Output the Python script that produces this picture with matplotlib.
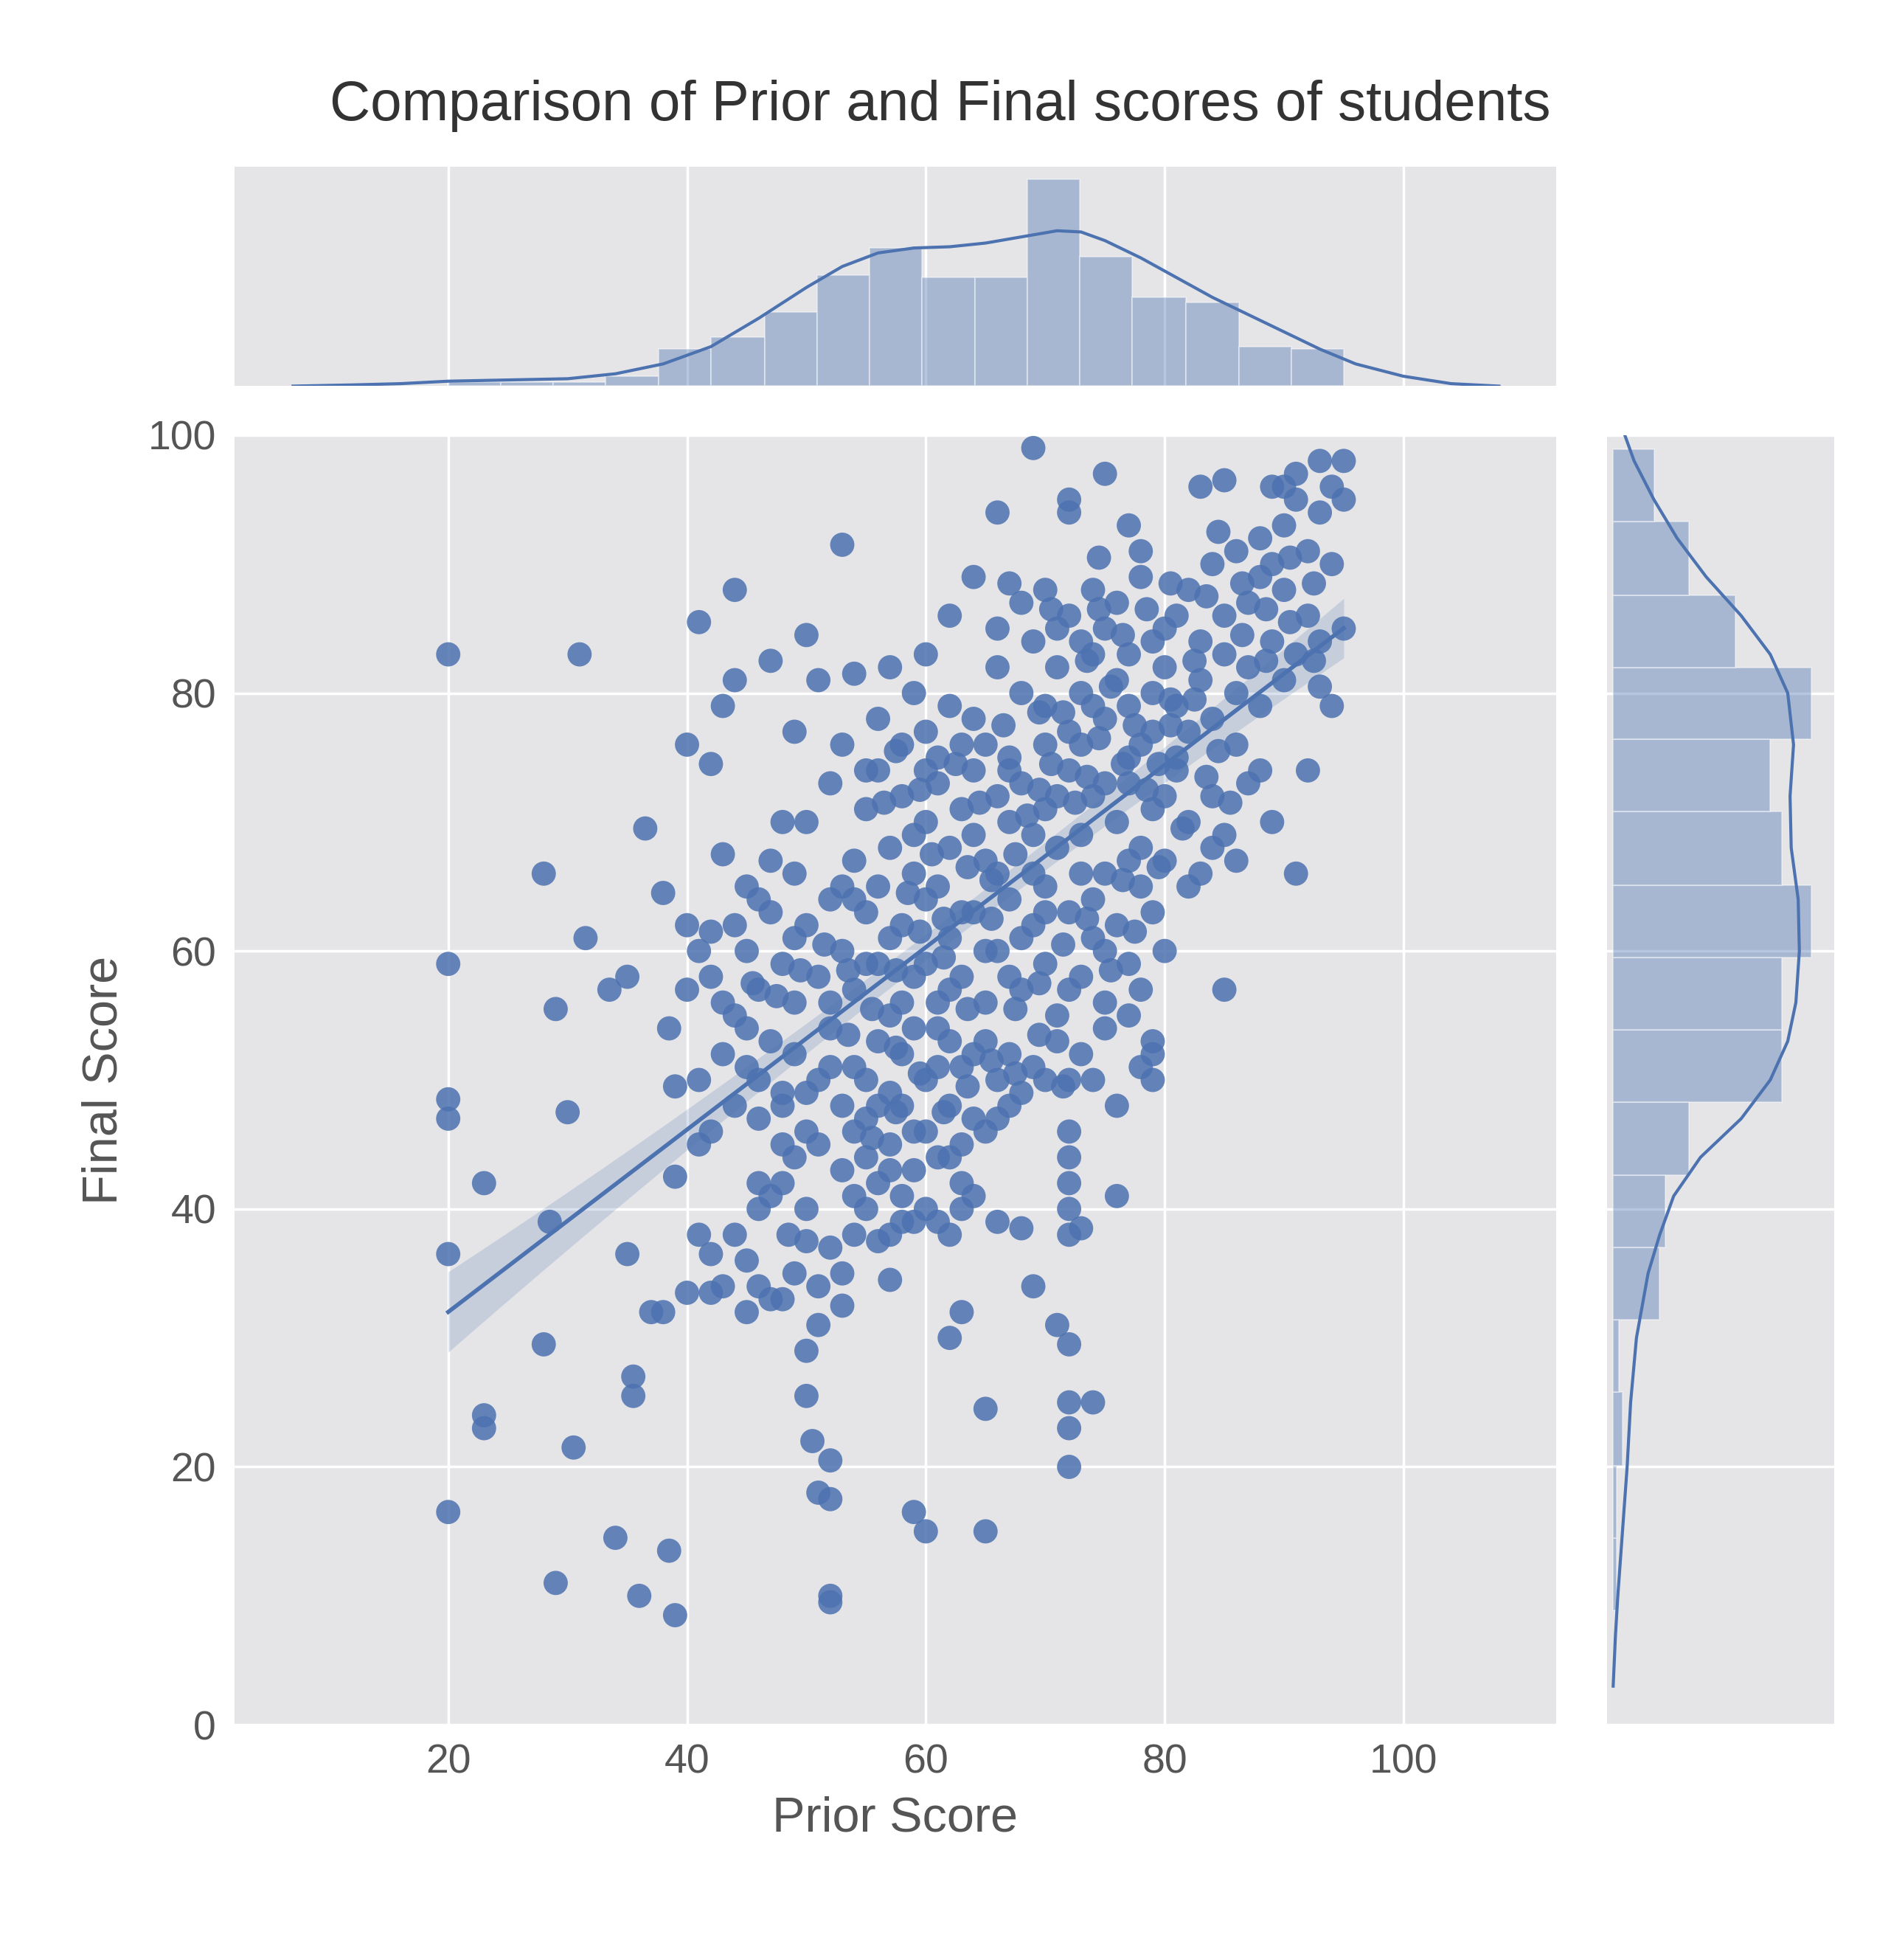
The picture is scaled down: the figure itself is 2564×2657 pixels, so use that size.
import numpy as np
import matplotlib
matplotlib.use("Agg")
import matplotlib.pyplot as plt

plt.rcParams['font.family'] = ['Liberation Sans', 'DejaVu Sans']

C = "#4C72B0"
BG = "#E5E5E8"

pts = [(20,83),(31,83),(20,59),(20,48.5),(20,47),(20,36.5),(20,16.5),(23,42),(23,24),(23,23),(28,66),(28.5,39),(28,29.5),(29,55.5),(29,11),(30,47.5),(30.5,21.5),(31.5,61),(33.5,57),(34,14.5),(35,36.5),(35.5,27),(35.5,25.5),(35,58),(36,10),(36.5,69.5),(37,32),(38,32),(38,64.5),(38.5,54),(38.5,13.5),(39,8.5),(39,42.5),(39,49.5),(40,76),(40,57),(40,33.5),(41,85.5),(41,38),(41,45),(42,74.5),(42,61.5),(42,36.5),(42,33.5),(43,79),(43,67.5),(44,81),(44,88),(45,32),(44,38),(45,65),(46,42),(47,82.5),(47,33),(48,48),(48,70),(48.5,38),(49,44),(49,77),(50,84.5),(50,37.5),(50,29),(50,25.5),(50.5,22),(51,18),(51,81),(52,10),(52,17.5),(52,20.5),(52,9.5),(53,91.5),(53,32.5),(54,81.5),(55,40),(56,37.5),(57,34.5),(58,39),(59,16.5),(60,15),(61,39),(62,86),(62,30),(63,32),(63,40),(65,24.5),(65,15),(66,94),(66,47),(68,38.5),(69,34),(69,99),(71,31),(72,29.5),(72,20),(72,23),(72,25),(73,38.5),(74,25),(72,95),(72,94),(75,97),(76,41),(77,93),(78,89),(79,50),(79,52),(83,96),(85,96.5),(85,57),(88,92),(91,66),(92,74),(90,96),(93,98),(95,98),(95,85),(94,79),(93,80.5),
(72,46),(72,44),(72,42),(72,40),(72,38),
(72,86),(74,88),(76,87),(78,91),(80,85),(82,88),(84,90),(86,91),(88,89),(90,93),(91,95),(92,91),(93,94),(94,96),(89,96),(87,87),(81,86),(79,84),(70,88),(68,87),(73,84),(75,85),(77,83),(83,84),(85,86),(90,88),(92,86),(94,90),(95,95),(91,97),(89,90),(67,88.5),(64,89),
(56,78),(58,76),(60,77),(62,79),(64,78),(65,76),(66,82),(68,80),(69,84),(70,79),(71,82),(72,77),(73,80),(74,83),(75,78),(76,81),(77,79),(78,76),(79,80),(80,82),(81,79),(82,77),(83,81),(84,78),(85,83),(86,80),(87,82),(88,79),(89,84),(90,81),(91,83),(93,84),(61,75),(63,76),(67,75),(70,76),(73,76),(77,75),(81,75),(53,76),(55,74),(59,80),(57,82),(60,83),(66,85),(71,85),(74,79),(79,77),(86,76),(88,74),
(50,70),(52,73),(54,67),(55,71),(56,74),(57,68),(58,72),(59,66),(60,70),(61,73),(62,68),(63,71),(64,74),(65,67),(66,72),(67,70),(68,73),(69,66),(70,71),(71,68),(72,74),(73,69),(74,72),(75,66),(76,70),(77,73),(78,68),(79,71),(80,67),(81,74),(82,70),(83,66),(84,72),(85,69),(86,67),(87,73),(89,70),(53,65),(56,65),(59,69),(61,65),(64,69),(66,66),(69,69),(71,72),(73,66),(75,73),(77,67),(80,72),(82,65),(84,68),(78,65),(60,74),(67,74),(70,65),(47,67),(49,66),
(42,58),(44,62),(45,60),(46,57),(47,63),(48,59),(49,56),(50,62),(51,58),(52,64),(53,60),(54,57),(55,63),(56,59),(57,55),(58,62),(59,58),(60,64),(61,56),(62,61),(63,58),(64,63),(65,56),(66,60),(67,64),(68,57),(69,62),(70,59),(71,55),(72,63),(73,58),(74,61),(75,56),(76,62),(77,59),(78,57),(79,63),(80,60),(43,56),(46,64),(49,61),(52,56),(55,59),(58,56),(60,59),(63,63),(65,60),(68,61),(70,63),(72,57),(75,60),(41,60),(44,55),(54,64),(57,61),(62,57),(67,58),(74,64),(77,55),(40,62),
(41,50),(43,52),(44,48),(45,51),(46,47),(47,53),(48,49),(49,52),(50,46),(51,50),(52,54),(53,48),(54,51),(55,47),(56,53),(57,49),(58,52),(59,46),(60,50),(61,54),(62,48),(63,51),(64,47),(65,53),(66,50),(67,52),(68,49),(69,51),(70,50),(71,53),(72,50),(73,52),(74,50),(75,54),(76,48),(78,51),(79,53),(42,46),(45,54),(48,45),(51,45),(54,46),(57,45),(60,46),(63,45),(55,50),(58,48),(61,51),(64,52),(67,48),(52,51),(46,50),(50,49),(56,48),(59,54),(62,53),(65,46),
(43,34),(45,36),(46,34),(47,41),(48,33),(49,35),(50,40),(51,34),(52,37),(53,43),(54,41),(55,44),(56,42),(57,38),(58,41),(59,43),(60,40),(61,44),(62,38),(63,42),(64,41),(66,39),(53,35),(51,31),(48,42),(46,40),(54,38),(57,43),(59,39),(62,44),
(56.5,71.5),(58.5,64.5),(60.5,67.5),(62.5,74.5),(64.5,71.5),(66.5,77.5),(68.5,70.5),(70.5,74.5),(72.5,71.5),(74.5,76.5),(76.5,74.5),(78.5,72.5),(80.5,77.5),(82.5,79.5),(84.5,75.5),(86.5,84.5),(88.5,86.5),(90.5,90.5),(92.5,88.5),(83.5,87.5),
(55.5,55.5),(57.5,52.5),(59.5,61.5),(61.5,59.5),(63.5,55.5),(65.5,62.5),(67.5,55.5),(69.5,57.5),(71.5,60.5),(73.5,62.5),(75.5,58.5),(77.5,61.5),(65.5,65.5),(67.5,67.5),(69.5,72.5),(71.5,78.5),(73.5,82.5),(75.5,80.5),(77.5,77.5),(79.5,74.5),
(53.5,53.5),(55.5,45.5),(57.5,47.5),(59.5,50.5),(61.5,47.5),(63.5,49.5),(65.5,51.5),(67.5,50.5),(69.5,53.5),(71.5,49.5),(53.5,58.5),(51.5,60.5),(49.5,58.5),(47.5,56.5),(45.5,57.5),(57.5,58.5),(61.5,62.5),(63.5,66.5),(59.5,72.5),(57.5,75.5),
(70.5,86.5),(74.5,86.5),(78.5,86.5),(80.5,88.5),(84.5,92.5),(86.5,88.5),(88.5,82.5),(90.5,85.5),(92.5,82.5),(82.5,82.5),(76.5,84.5),(74.5,90.5),(80.5,79.5),(83.5,73.5),(85.5,71.5),(81.5,69.5),(79.5,66.5),(76.5,65.5),(73.5,73.5),(69.5,78.5)]
prior = [p[0] for p in pts]
final = [p[1] for p in pts]

# regression line (slope, intercept)
reg_slope = 0.707
reg_intercept = 17.87

# top marginal histogram
top_edges = [20, 24.4, 28.8, 33.2, 37.6, 42, 46.5, 50.9, 55.3, 59.7, 64.1, 68.5, 72.9, 77.3, 81.8, 86.2, 90.6, 95]
top_heights = [3, 3, 3, 8, 30, 40, 60, 90, 112, 88, 88, 168, 105, 72, 68, 32, 30]
top_kde_x = [7, 12, 16, 20, 25, 30, 34, 38, 42, 46, 50, 53, 56, 59, 62, 65, 68, 71, 73, 75, 78, 81, 84, 87, 90, 93, 96, 100, 104, 108]
top_kde_y = [0, 1, 2, 4, 5, 6, 10, 18, 32, 55, 80, 97, 108, 112, 113, 116, 121, 126, 125, 118, 104, 88, 72, 58, 44, 30, 18, 8, 2, 0]

# right marginal histogram
right_edges = [8.9, 14.5, 20.1, 25.8, 31.4, 37.0, 42.6, 48.3, 53.9, 59.5, 65.1, 70.8, 76.4, 82.0, 87.6, 93.3, 98.9]
right_widths = [3, 3, 8, 5, 40, 45, 65, 145, 145, 170, 145, 135, 170, 105, 65, 35]
right_kde_y = [3, 7, 10, 15, 20, 25, 30, 35, 38, 41, 44, 47, 50, 53, 56, 60, 64, 68, 72, 76, 80, 83, 86, 89, 92, 95, 98, 100]
right_kde_x = [0, 2, 4, 8, 12, 15, 20, 30, 40, 52, 75, 110, 135, 150, 157, 160, 159, 153, 152, 155, 150, 135, 110, 80, 55, 35, 18, 10]

fig = plt.figure(figsize=(25.64, 26.57), dpi=100)
ax = fig.add_axes([0.124, 0.12, 0.699, 0.658])
axt = fig.add_axes([0.124, 0.803, 0.699, 0.112], sharex=ax)
axr = fig.add_axes([0.85, 0.12, 0.12, 0.658], sharey=ax)

for a in (ax, axt, axr):
    a.set_facecolor(BG)
    for s in a.spines.values():
        s.set_visible(False)
    a.grid(True, color="white", linewidth=2.5)
    a.set_axisbelow(True)
    a.tick_params(length=0, labelsize=40, labelcolor="#555555", pad=18)

ax.scatter(prior, final, s=560, color=C, alpha=0.85, edgecolors="none", zorder=3)
xs = np.linspace(20, 95, 100)
ys = reg_slope * xs + reg_intercept
ci = 1.0 + 0.0012 * (xs - 62) ** 2
ax.fill_between(xs, ys - ci, ys + ci, color=C, alpha=0.2, linewidth=0, zorder=4)
ax.plot(xs, ys, color=C, linewidth=4, zorder=5)
ax.set_xlim(2.1, 112.8)
ax.set_ylim(0, 100)
ax.set_xticks([20, 40, 60, 80, 100])
ax.set_yticks([0, 20, 40, 60, 80, 100])
ax.set_xlabel("Prior Score", fontsize=48, color="#555555", labelpad=14)
ax.set_ylabel("Final Score", fontsize=48, color="#555555", labelpad=20)

axt.bar(top_edges[:-1], top_heights, width=np.diff(top_edges), align="edge",
        color=C, alpha=0.4, edgecolor="white", linewidth=1.5)
axt.plot(top_kde_x, top_kde_y, color=C, linewidth=3)
axt.set_ylim(0, 178)
axt.tick_params(labelbottom=False, labelleft=False)
axt.set_yticks([])
axt.set_title("Comparison of Prior and Final scores of students", fontsize=55,
              color="#333333", pad=45, x=0.534)

axr.barh(right_edges[:-1], right_widths, height=np.diff(right_edges), align="edge",
         color=C, alpha=0.4, edgecolor="white", linewidth=1.5)
axr.plot(right_kde_x, right_kde_y, color=C, linewidth=3)
axr.set_xlim(-5, 190)
axr.set_xticks([])
axr.tick_params(labelleft=False)

fig.savefig("out.png", dpi=100)
